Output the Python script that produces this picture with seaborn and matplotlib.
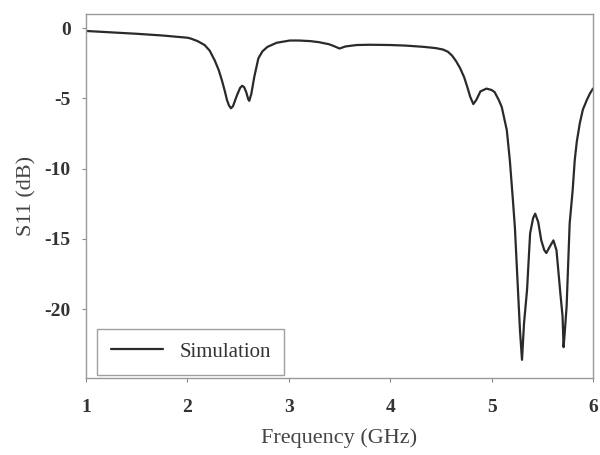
import seaborn as sns
from matplotlib import pyplot as plt
import pandas as pd

# S11 curve
freq = [1.00, 1.25, 1.50, 1.75, 2.00, 2.03, 2.10, 2.17, 2.22, 2.27, 2.31, 2.34, 2.37,
        2.39, 2.41, 2.43, 2.45, 2.47, 2.49, 2.52, 2.54, 2.56, 2.58, 2.60, 2.61, 2.63,
        2.66, 2.70, 2.74, 2.79, 2.88, 3.01, 3.10, 3.21, 3.30, 3.40, 3.46, 3.50, 3.56,
        3.67, 3.80, 4.00, 4.15, 4.33, 4.45, 4.52, 4.57, 4.61, 4.65, 4.69, 4.73, 4.76, 4.79,
        4.82, 4.85, 4.89, 4.95, 5.00, 5.03, 5.07, 5.10, 5.15, 5.18, 5.21, 5.23, 5.26,
        5.28, 5.30, 5.32, 5.35, 5.38, 5.41, 5.43, 5.46, 5.49, 5.52, 5.54, 5.57, 5.61,
        5.64, 5.66, 5.68, 5.70, 5.71, 5.72, 5.74, 5.77, 5.80, 5.82, 5.84, 5.87, 5.90,
        5.94, 5.97, 6.00]
s11 = [-0.20, -0.30, -0.40, -0.52, -0.68, -0.73, -0.92, -1.20, -1.60, -2.30, -3.00, -3.70, -4.50,
       -5.10, -5.50, -5.70, -5.55, -5.15, -4.76, -4.25, -4.10, -4.20, -4.55, -5.05, -5.17, -4.70,
       -3.46, -2.15, -1.65, -1.33, -1.04, -0.88, -0.88, -0.92, -1.00, -1.15, -1.32, -1.45, -1.30,
       -1.20, -1.18, -1.20, -1.24, -1.33, -1.42, -1.52, -1.68, -1.95, -2.35, -2.85, -3.50, -4.17, -4.90,
       -5.40, -5.10, -4.50, -4.30, -4.40, -4.55, -5.10, -5.60, -7.25, -9.40, -12.2, -14.2, -18.6,
       -21.5, -23.6, -21.0, -18.6, -14.6, -13.5, -13.2, -13.8, -15.1, -15.8, -16.0, -15.6, -15.1,
       -15.8, -17.4, -19.0, -20.5, -22.7, -21.8, -19.8, -13.9, -11.5, -9.40, -8.10, -6.77, -5.80,
       -5.10, -4.65, -4.30]

df = pd.DataFrame({"Frequency": freq, "S11": s11})

sns.set_style("ticks")
plt.rcParams["font.family"] = ["Liberation Serif", "DejaVu Serif"]

fig = plt.figure(figsize=(6, 4.55), dpi=100)
ax = fig.add_axes([0.1433, 0.169, 0.845, 0.80])
sns.lineplot(x="Frequency", y="S11", data=df, ax=ax, color="#2a2a2a", linewidth=1.6,
             label="Simulation", sort=False)

ax.set_xlim(1, 6)
ax.set_ylim(-24.9, 1.0)
ax.set_xticks([1, 2, 3, 4, 5, 6])
ax.set_yticks([0, -5, -10, -15, -20])
ax.set_xticklabels(["1", "2", "3", "4", "5", "6"], fontweight="bold", fontsize=14, color="#333333")
ax.set_yticklabels(["0", "-5", "-10", "-15", "-20"], fontweight="bold", fontsize=14, color="#333333")
ax.tick_params(direction="out", length=3, width=0.8, color="#888888", pad=8)
ax.tick_params(axis="x", pad=12)
for sp in ax.spines.values():
    sp.set_visible(True)
    sp.set_color("#999999")
    sp.set_linewidth(1.0)

ax.set_xlabel("Frequency (GHz)", fontsize=16, color="#444444", labelpad=9)
ax.set_ylabel("S11 (dB)", fontsize=16, color="#444444", labelpad=6)

leg = ax.legend(loc="lower left", bbox_to_anchor=(0.022, 0.008), borderaxespad=0,
                fontsize=15, frameon=True, fancybox=False,
                handlelength=2.5, borderpad=0.65, handletextpad=0.8)
leg.get_frame().set_edgecolor("#888888")
leg.get_frame().set_linewidth(1.0)
for t in leg.get_texts():
    t.set_color("#333333")

plt.savefig("out.png", dpi=100)
